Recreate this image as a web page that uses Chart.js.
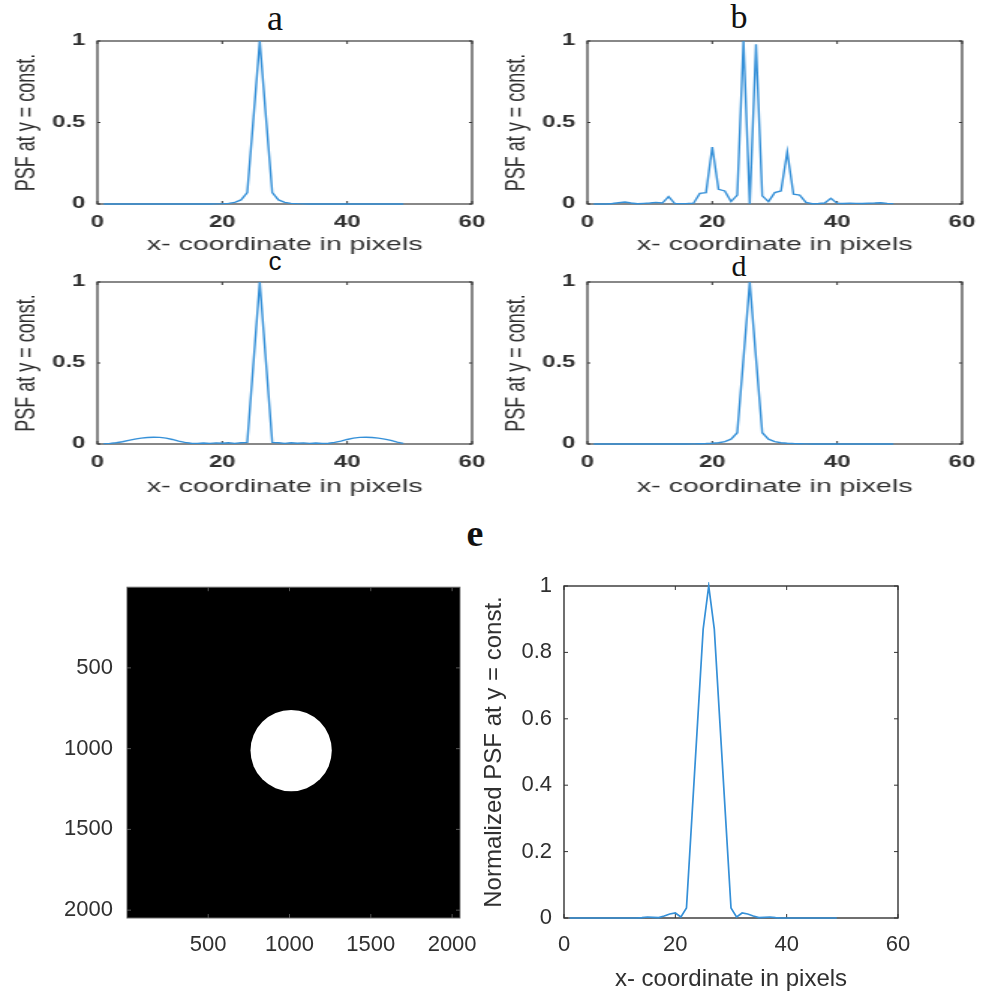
<!DOCTYPE html>
<html>
<head>
<meta charset="utf-8">
<script src="https://cdn.jsdelivr.net/npm/chart.js@4.4.1/dist/chart.umd.min.js"></script>
<style>
  body { margin: 0; background: #fff; width: 984px; height: 996px; position: relative; overflow: hidden; }
  canvas { position: absolute; }
  .lbl { position: absolute; line-height: 1; color: #111; transform: translateX(-50%); font-family: "Liberation Serif", "Times New Roman", serif; }
</style>
</head>
<body>

<div class="lbl" style="left:275px;top:0px;font-size:36px">a</div>
<div class="lbl" style="left:739px;top:0px;font-size:34px">b</div>
<div class="lbl" style="left:275px;top:248px;font-size:26px;font-family:'Liberation Sans',Arial,sans-serif">c</div>
<div class="lbl" style="left:739px;top:251px;font-size:30px">d</div>
<div class="lbl" style="left:475px;top:514px;font-size:38px;font-weight:bold">e</div>

<!-- small panels are drawn narrow and stretched 1.5x wide, like the original figure -->
<canvas id="chartA" width="327" height="258" style="left:0px;top:0px;width:490px;height:258px"></canvas>
<canvas id="chartB" width="327" height="258" style="left:490px;top:0px;width:490px;height:258px"></canvas>
<canvas id="chartC" width="327" height="250" style="left:0px;top:250px;width:490px;height:250px"></canvas>
<canvas id="chartD" width="327" height="250" style="left:490px;top:250px;width:490px;height:250px"></canvas>
<canvas id="chartImg" width="480" height="436" style="left:0px;top:560px;width:480px;height:436px"></canvas>
<canvas id="chartE" width="514" height="436" style="left:470px;top:560px;width:514px;height:436px"></canvas>

<script>
// x position (pixel index) of every sample
var xPix = [1, 2, 3, 4, 5, 6, 7, 8, 9, 10,
  11, 12, 13, 14, 15, 16, 17, 18, 19, 20,
  21, 22, 23, 24, 25, 26, 27, 28, 29, 30,
  31, 32, 33, 34, 35, 36, 37, 38, 39, 40,
  41, 42, 43, 44, 45, 46, 47, 48, 49];

var psfA = [0, 0, 0, 0, 0, 0, 0, 0, 0, 0,
  0, 0, 0, 0, 0, 0, 0, 0, 0.001, 0.002,
  0.004, 0.01, 0.025, 0.07, 0.53, 1, 0.53, 0.07, 0.025, 0.01,
  0.004, 0.002, 0.001, 0, 0, 0, 0, 0, 0, 0,
  0, 0, 0, 0, 0, 0, 0, 0, 0];

var psfB = [0, 0, 0, 0.003, 0.008, 0.012, 0.006, 0.002, 0.004, 0.006,
  0.01, 0.006, 0.045, 0.003, 0.002, 0.003, 0.005, 0.065, 0.07, 0.35,
  0.09, 0.08, 0.015, 0.055, 1.0, 0, 0.98, 0.05, 0.015, 0.07,
  0.08, 0.32, 0.06, 0.055, 0.01, 0.002, 0.003, 0.006, 0.035, 0.004,
  0.003, 0.005, 0.004, 0.003, 0.005, 0.006, 0.008, 0.004, 0.002];

var psfC = [0.002, 0.004, 0.008, 0.014, 0.022, 0.03, 0.036, 0.04, 0.042, 0.041,
  0.036, 0.028, 0.018, 0.01, 0.005, 0.004, 0.006, 0.004, 0.007, 0.005,
  0.008, 0.004, 0.008, 0.01, 0.505, 1, 0.505, 0.01, 0.008, 0.004,
  0.008, 0.005, 0.007, 0.004, 0.006, 0.004, 0.005, 0.01, 0.018, 0.028,
  0.036, 0.041, 0.042, 0.04, 0.036, 0.03, 0.022, 0.012, 0.004];

var psfD = [0, 0, 0, 0, 0, 0, 0, 0, 0, 0,
  0, 0, 0, 0, 0, 0, 0.001, 0.002, 0.003, 0.005,
  0.008, 0.015, 0.03, 0.07, 0.53, 1, 0.53, 0.07, 0.03, 0.015,
  0.008, 0.005, 0.003, 0.002, 0.001, 0, 0, 0, 0, 0,
  0, 0, 0, 0, 0, 0, 0, 0, 0];

var psfE = [0, 0, 0, 0, 0, 0, 0, 0, 0, 0,
  0, 0, 0, 0.001, 0.003, 0.002, 0.001, 0.006, 0.012, 0.015,
  0.003, 0.03, 0.31, 0.59, 0.87, 1, 0.87, 0.59, 0.31, 0.03,
  0.003, 0.015, 0.012, 0.006, 0.001, 0.002, 0.003, 0.001, 0, 0,
  0, 0, 0, 0, 0, 0, 0, 0, 0];

// aperture image: white disc on black, 2048 x 2048 pixels
var imgSize = 2048;
var imgTicks = [500, 1000, 1500, 2000];
var discCenter = [1010, 1012];
var discRadius = 250;

var fontFam = "'Liberation Sans', Arial, Helvetica, sans-serif";
var ink = '#303030';
var blue = '#3590d8';

function toPoints(ys) {
  return xPix.map(function (x, i) { return { x: x, y: ys[i] }; });
}

function tickText(v) {
  return String(Math.round(v * 1000) / 1000);
}

// axes box + small inward tick marks, drawn under the data
var boxPlugin = {
  id: 'box',
  beforeDatasetsDraw: function (chart, args, opts) {
    var ctx = chart.ctx;
    var a = chart.chartArea;
    ctx.save();
    if (opts.fill) {
      ctx.fillStyle = opts.fill;
      ctx.fillRect(a.left, a.top, a.right - a.left, a.bottom - a.top);
    }
    ctx.strokeStyle = opts.tickColor || '#333';
    ctx.lineWidth = 1;
    ctx.beginPath();
    chart.scales.x.ticks.forEach(function (t) {
      var px = chart.scales.x.getPixelForValue(t.value);
      ctx.moveTo(px, a.bottom); ctx.lineTo(px, a.bottom - opts.tickLen);
      ctx.moveTo(px, a.top); ctx.lineTo(px, a.top + opts.tickLen);
    });
    chart.scales.y.ticks.forEach(function (t) {
      var py = chart.scales.y.getPixelForValue(t.value);
      ctx.moveTo(a.left, py); ctx.lineTo(a.left + opts.tickLenX, py);
      ctx.moveTo(a.right, py); ctx.lineTo(a.right - opts.tickLenX, py);
    });
    ctx.stroke();
    ctx.strokeStyle = opts.color || '#333';
    ctx.lineWidth = opts.width || 1.2;
    ctx.strokeRect(a.left, a.top, a.right - a.left, a.bottom - a.top);
    ctx.restore();
  }
};

function noSidePad(s) {
  s.paddingLeft = 0;
  s.paddingRight = 0;
}

function smallChart(id, ys, top, xAxisH) {
  var ctx = document.getElementById(id).getContext('2d');
  return new Chart(ctx, {
    type: 'line',
    data: {
      datasets: [{
        data: toPoints(ys),
        borderColor: blue,
        borderWidth: 1.4,
        pointRadius: 0,
        tension: 0,
        clip: 4
      }]
    },
    options: {
      responsive: false,
      devicePixelRatio: 1,
      animation: false,
      events: [],
      layout: { padding: { left: 0, right: 12, top: top, bottom: 0 } },
      plugins: {
        legend: { display: false },
        tooltip: { enabled: false },
        box: { color: '#3a3a3a', width: 1.2, tickLen: 3, tickLenX: 2 }
      },
      scales: {
        x: {
          type: 'linear', min: 0, max: 60,
          grid: { display: false, drawTicks: false },
          border: { display: false },
          ticks: { stepSize: 20, padding: 9, color: ink, font: { family: fontFam, size: 16, weight: 'bold' }, callback: tickText },
          title: { display: true, text: 'x- coordinate in pixels', color: ink, padding: { top: 0, bottom: 2 }, font: { family: fontFam, size: 19 } },
          afterFit: function (s) { s.height = xAxisH; noSidePad(s); }
        },
        y: {
          type: 'linear', min: 0, max: 1,
          grid: { display: false, drawTicks: false },
          border: { display: false },
          ticks: { stepSize: 0.5, padding: 8, color: ink, font: { family: fontFam, size: 16, weight: 'bold' }, callback: tickText },
          title: { display: true, text: 'PSF at y = const.', color: ink, padding: { top: 7, bottom: 0 }, font: { family: fontFam, size: 18 } },
          afterFit: function (s) { s.width = 65; }
        }
      }
    },
    plugins: [boxPlugin]
  });
}

smallChart('chartA', psfA, 41, 54);
smallChart('chartB', psfB, 41, 54);
smallChart('chartC', psfC, 32, 56);
smallChart('chartD', psfD, 32, 56);

// disc radius in screen pixels, taken from the x scale
function discRadiusPx(c) {
  var s = c.chart.scales.x;
  return Math.abs(s.getPixelForValue(discCenter[0] + discRadius) - s.getPixelForValue(discCenter[0]));
}

// panel e, left: the aperture image
new Chart(document.getElementById('chartImg').getContext('2d'), {
  type: 'scatter',
  data: {
    datasets: [{
      data: [{ x: discCenter[0], y: discCenter[1] }],
      pointBackgroundColor: '#ffffff',
      pointBorderColor: '#ffffff',
      pointBorderWidth: 0,
      pointRadius: discRadiusPx,
      clip: false
    }]
  },
  options: {
    responsive: false,
    devicePixelRatio: 1,
    animation: false,
    events: [],
    layout: { padding: { left: 0, right: 20, top: 26, bottom: 0 } },
    plugins: {
      legend: { display: false },
      tooltip: { enabled: false },
      box: { fill: '#000', color: '#6a6a6a', width: 1, tickColor: '#555', tickLen: 4, tickLenX: 4 }
    },
    scales: {
      x: {
        type: 'linear', min: 0.5, max: imgSize + 0.5,
        grid: { display: false, drawTicks: false },
        border: { display: false },
        afterBuildTicks: function (s) { s.ticks = imgTicks.map(function (v) { return { value: v }; }); },
        ticks: { padding: 14, color: ink, font: { family: fontFam, size: 22 }, callback: tickText },
        afterFit: function (s) { s.height = 78; noSidePad(s); }
      },
      y: {
        type: 'linear', min: 0.5, max: imgSize + 0.5, reverse: true,
        grid: { display: false, drawTicks: false },
        border: { display: false },
        afterBuildTicks: function (s) { s.ticks = imgTicks.map(function (v) { return { value: v }; }); },
        ticks: { padding: 14, color: ink, font: { family: fontFam, size: 22 }, callback: tickText },
        afterFit: function (s) { s.width = 127; }
      }
    }
  },
  plugins: [boxPlugin]
});

// panel e, right: normalized PSF profile
new Chart(document.getElementById('chartE').getContext('2d'), {
  type: 'line',
  data: {
    datasets: [{
      data: toPoints(psfE),
      borderColor: blue,
      borderWidth: 1.7,
      pointRadius: 0,
      tension: 0,
      clip: 4
    }]
  },
  options: {
    responsive: false,
    devicePixelRatio: 1,
    animation: false,
    events: [],
    layout: { padding: { left: 0, right: 86, top: 26, bottom: 0 } },
    plugins: {
      legend: { display: false },
      tooltip: { enabled: false },
      box: { color: '#333', width: 1.4, tickLen: 4, tickLenX: 4 }
    },
    scales: {
      x: {
        type: 'linear', min: 0, max: 60,
        grid: { display: false, drawTicks: false },
        border: { display: false },
        ticks: { stepSize: 20, padding: 14, color: ink, font: { family: fontFam, size: 22 }, callback: tickText },
        title: { display: true, text: 'x- coordinate in pixels', color: ink, padding: { top: 0, bottom: 2 }, font: { family: fontFam, size: 24 } },
        afterFit: function (s) { s.height = 78; noSidePad(s); }
      },
      y: {
        type: 'linear', min: 0, max: 1,
        grid: { display: false, drawTicks: false },
        border: { display: false },
        ticks: { stepSize: 0.2, padding: 12, color: ink, font: { family: fontFam, size: 22 }, callback: tickText },
        title: { display: true, text: 'Normalized PSF at y = const.', color: ink, padding: { top: 10, bottom: 0 }, font: { family: fontFam, size: 24 } },
        afterFit: function (s) { s.width = 94; }
      }
    }
  },
  plugins: [boxPlugin]
});
</script>
</body>
</html>
